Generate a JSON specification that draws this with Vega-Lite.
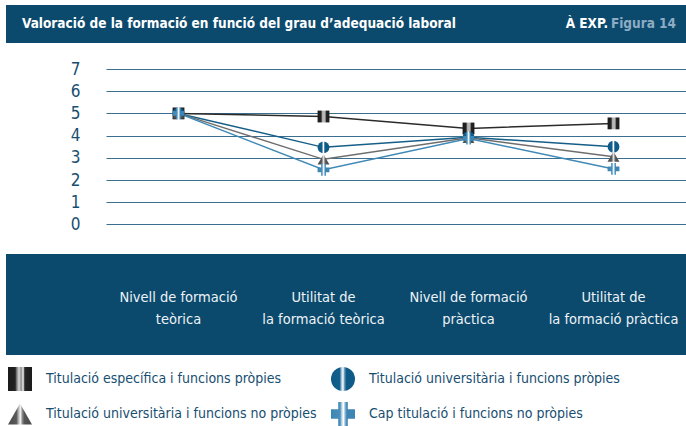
{
  "$schema": "https://vega.github.io/schema/vega-lite/v6.json",
  "padding": {"left": 6, "top": 5, "right": 0, "bottom": 0},
  "datasets": {
    "series": [
      {"s": "Titulació específica i funcions pròpies", "cat": "Nivell de formació teòrica", "i": 1, "v": 5.0},
      {"s": "Titulació específica i funcions pròpies", "cat": "Utilitat de la formació teòrica", "i": 2, "v": 4.86},
      {"s": "Titulació específica i funcions pròpies", "cat": "Nivell de formació pràctica", "i": 3, "v": 4.32},
      {"s": "Titulació específica i funcions pròpies", "cat": "Utilitat de la formació pràctica", "i": 4, "v": 4.55},
      {"s": "Titulació universitària i funcions pròpies", "cat": "Nivell de formació teòrica", "i": 1, "v": 5.0},
      {"s": "Titulació universitària i funcions pròpies", "cat": "Utilitat de la formació teòrica", "i": 2, "v": 3.47},
      {"s": "Titulació universitària i funcions pròpies", "cat": "Nivell de formació pràctica", "i": 3, "v": 3.93},
      {"s": "Titulació universitària i funcions pròpies", "cat": "Utilitat de la formació pràctica", "i": 4, "v": 3.5},
      {"s": "Titulació universitària i funcions no pròpies", "cat": "Nivell de formació teòrica", "i": 1, "v": 5.0},
      {"s": "Titulació universitària i funcions no pròpies", "cat": "Utilitat de la formació teòrica", "i": 2, "v": 2.93},
      {"s": "Titulació universitària i funcions no pròpies", "cat": "Nivell de formació pràctica", "i": 3, "v": 3.9},
      {"s": "Titulació universitària i funcions no pròpies", "cat": "Utilitat de la formació pràctica", "i": 4, "v": 3.05},
      {"s": "Cap titulació i funcions no pròpies", "cat": "Nivell de formació teòrica", "i": 1, "v": 5.0},
      {"s": "Cap titulació i funcions no pròpies", "cat": "Utilitat de la formació teòrica", "i": 2, "v": 2.46},
      {"s": "Cap titulació i funcions no pròpies", "cat": "Nivell de formació pràctica", "i": 3, "v": 3.87},
      {"s": "Cap titulació i funcions no pròpies", "cat": "Utilitat de la formació pràctica", "i": 4, "v": 2.5}
    ],
    "cats": [
      {"cat": "Nivell de formació teòrica", "label": ["Nivell de formació", "teòrica"]},
      {"cat": "Utilitat de la formació teòrica", "label": ["Utilitat de", "la formació teòrica"]},
      {"cat": "Nivell de formació pràctica", "label": ["Nivell de formació", "pràctica"]},
      {"cat": "Utilitat de la formació pràctica", "label": ["Utilitat de", "la formació pràctica"]}
    ]
  },
  "spacing": 17,
  "vconcat": [
    {
      "width": 680,
      "height": 38,
      "view": {"fill": "#0b4a6d", "stroke": null},
      "layer": [
        {
          "data": {"values": [{"t": "Valoració de la formació en funció del grau d’adequació laboral"}]},
          "mark": {"type": "text", "align": "left", "dx": 16, "fontSize": 13.5, "fontWeight": "bold", "color": "#ffffff"},
          "encoding": {
            "x": {"datum": 0, "type": "quantitative", "scale": {"domain": [0, 1]}, "axis": null},
            "text": {"field": "t"}
          }
        },
        {
          "data": {"values": [{"t": "À EXP."}]},
          "mark": {"type": "text", "align": "right", "dx": -78, "fontSize": 13.5, "fontWeight": "bold", "color": "#ffffff"},
          "encoding": {
            "x": {"datum": 1, "type": "quantitative", "scale": {"domain": [0, 1]}, "axis": null},
            "text": {"field": "t"}
          }
        },
        {
          "data": {"values": [{"t": "Figura 14"}]},
          "mark": {"type": "text", "align": "right", "dx": -10, "fontSize": 13.5, "fontWeight": "bold", "color": "#8eadc4"},
          "encoding": {
            "x": {"datum": 1, "type": "quantitative", "scale": {"domain": [0, 1]}, "axis": null},
            "text": {"field": "t"}
          }
        }
      ]
    },
    {
      "spacing": 21,
      "vconcat": [
        {
          "width": 680,
          "height": 155.4,
          "data": {"name": "series"},
          "view": {"stroke": null},
          "encoding": {
            "x": {
              "field": "cat", "type": "nominal",
              "scale": {"type": "point", "padding": 0.5, "range": [100, 680], "domain": ["Nivell de formació teòrica", "Utilitat de la formació teòrica", "Nivell de formació pràctica", "Utilitat de la formació pràctica"]},
              "axis": null
            },
            "y": {
              "field": "v", "type": "quantitative",
              "scale": {"domain": [0, 7], "nice": false},
              "axis": {
                "values": [0, 1, 2, 3, 4, 5, 6, 7],
                "title": null,
                "grid": true, "gridColor": "#3a6f8f", "gridWidth": 1.2,
                "domain": false, "ticks": false,
                "labelPadding": -74, "labelFontSize": 17, "labelColor": "#174e71"
              }
            }
          },
          "layer": [
            {
              "mark": {"type": "line", "strokeWidth": 1.5},
              "encoding": {
                "order": {"field": "i", "type": "quantitative"},
                "stroke": {
                  "field": "s", "type": "nominal",
                  "scale": {
                    "domain": ["Titulació específica i funcions pròpies", "Titulació universitària i funcions pròpies", "Titulació universitària i funcions no pròpies", "Cap titulació i funcions no pròpies"],
                    "range": ["#2b2b2b", "#145e88", "#6e6e6e", "#3f89b6"]
                  }
                }
              }
            },
            {
              "mark": {"type": "point", "filled": true, "opacity": 1, "size": 140, "strokeWidth": 0},
              "encoding": {
                "shape": {
                  "field": "s", "type": "nominal",
                  "scale": {
                    "domain": ["Titulació específica i funcions pròpies", "Titulació universitària i funcions pròpies", "Titulació universitària i funcions no pròpies", "Cap titulació i funcions no pròpies"],
                    "range": ["square", "circle", "triangle-up", "cross"]
                  },
                  "legend": {
                    "orient": "none", "legendX": 2, "legendY": 362, "direction": "horizontal", "columns": 2, "gridAlign": "none",
                    "columnPadding": 14, "rowPadding": 11, "title": null, "symbolType": "circle",
                    "symbolSize": 576, "symbolOpacity": 1, "symbolStrokeWidth": 0,
                    "labelFontSize": 14, "labelColor": "#174e71", "labelOffset": 14, "labelLimit": 400,
                    "encode": {
                      "symbols": {
                        "update": {
                          "size": {"value": 576},
                          "strokeWidth": {"value": 0},
                          "opacity": {"value": 1}
                        }
                      }
                    }
                  }
                },
                "fill": {
                  "value": {
                    "expr": "(datum.s || datum.value) === 'Titulació específica i funcions pròpies' ? {gradient: 'linear', x1: 0, y1: 0, x2: 1, y2: 0, stops: [{offset: 0, color: '#1b1b1b'}, {offset: 0.3, color: '#222222'}, {offset: 0.36, color: '#7a7a7a'}, {offset: 0.46, color: '#d8d8d8'}, {offset: 0.55, color: '#8c8c8c'}, {offset: 0.63, color: '#f2f2f2'}, {offset: 0.7, color: '#262626'}, {offset: 1, color: '#1b1b1b'}]} : (datum.s || datum.value) === 'Titulació universitària i funcions pròpies' ? {gradient: 'linear', x1: 0, y1: 0, x2: 1, y2: 0, stops: [{offset: 0, color: '#0f5b87'}, {offset: 0.36, color: '#115f8c'}, {offset: 0.44, color: '#a9c8dc'}, {offset: 0.5, color: '#ffffff'}, {offset: 0.56, color: '#6f9fbf'}, {offset: 0.64, color: '#0f5b87'}, {offset: 1, color: '#0f5b87'}]} : (datum.s || datum.value) === 'Titulació universitària i funcions no pròpies' ? {gradient: 'linear', x1: 0, y1: 0, x2: 1, y2: 0, stops: [{offset: 0, color: '#4a4a4a'}, {offset: 0.35, color: '#5a5a5a'}, {offset: 0.45, color: '#bdbdbd'}, {offset: 0.52, color: '#f0f0f0'}, {offset: 0.6, color: '#8a8a8a'}, {offset: 0.68, color: '#555555'}, {offset: 1, color: '#4a4a4a'}]} : {gradient: 'linear', x1: 0, y1: 0, x2: 1, y2: 0, stops: [{offset: 0, color: '#3d85b2'}, {offset: 0.38, color: '#4a8fba'}, {offset: 0.46, color: '#cfe1ee'}, {offset: 0.52, color: '#ffffff'}, {offset: 0.6, color: '#7fb0d0'}, {offset: 0.66, color: '#3d85b2'}, {offset: 1, color: '#3d85b2'}]}"
                  }
                }
              }
            }
          ]
        },
        {
          "width": 680,
          "height": 101,
          "data": {"name": "cats"},
          "view": {"fill": "#0b4a6d", "stroke": null},
          "mark": {"type": "text", "color": "#eef3f7", "fontSize": 14.5, "lineHeight": 22, "dy": -7},
          "encoding": {
            "x": {
              "field": "cat", "type": "nominal",
              "scale": {"type": "point", "padding": 0.5, "range": [100, 680], "domain": ["Nivell de formació teòrica", "Utilitat de la formació teòrica", "Nivell de formació pràctica", "Utilitat de la formació pràctica"]},
              "axis": null
            },
            "text": {"field": "label"}
          }
        }
      ]
    }
  ],
  "config": {
    "font": "DejaVu Sans Condensed, sans-serif",
    "view": {"stroke": null},
    "legend": {"gridAlign": "none"}
  }
}
